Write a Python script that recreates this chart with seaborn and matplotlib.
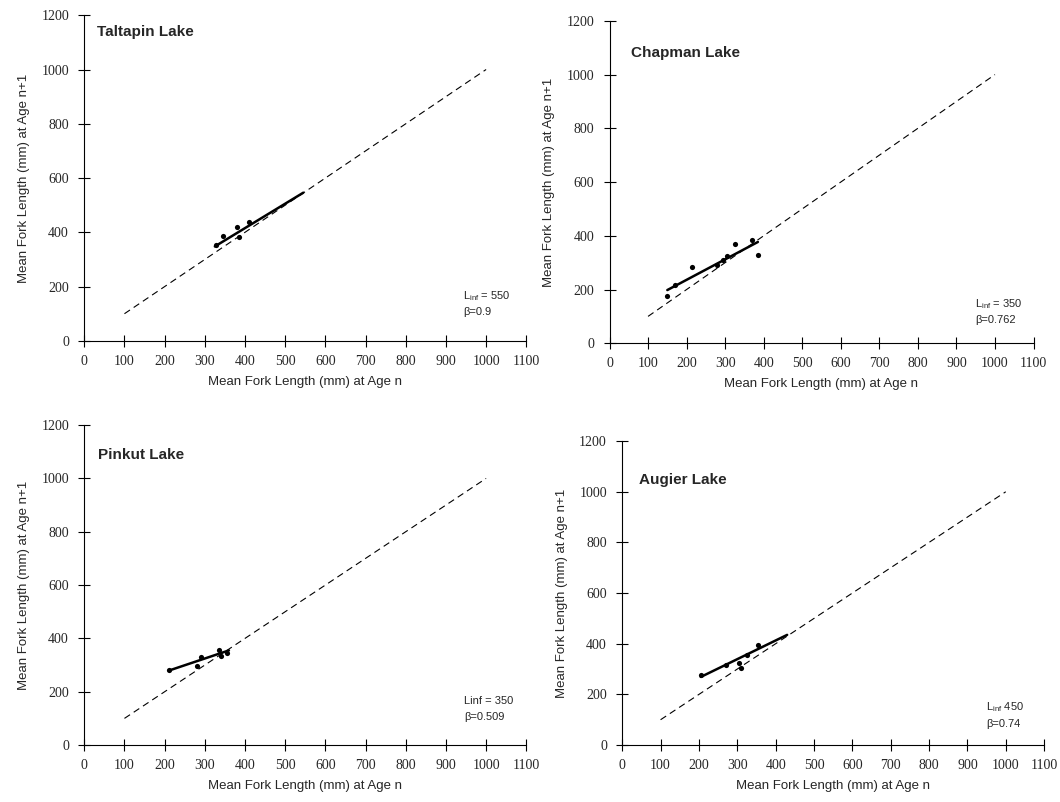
import numpy as np
import pandas as pd
import matplotlib
matplotlib.use("Agg")
import matplotlib.pyplot as plt
import seaborn as sns

# ---------------- data ----------------
lakes = ["Taltapin Lake", "Chapman Lake", "Pinkut Lake", "Augier Lake"]

taltapin_x = [329, 346, 379, 385, 410]
taltapin_y = [355, 386, 418, 381, 437]
taltapin_fit_x = [325, 545]
taltapin_fit_y = [348, 546]

chapman_x = [150, 170, 215, 280, 295, 305, 325, 370, 385]
chapman_y = [175, 215, 285, 290, 310, 325, 370, 385, 330]
chapman_fit_x = [150, 385]
chapman_fit_y = [198, 377]

pinkut_x = [210, 280, 290, 335, 340, 355]
pinkut_y = [280, 295, 330, 355, 335, 345]
pinkut_fit_x = [210, 360]
pinkut_fit_y = [279, 355]

augier_x = [205, 270, 305, 310, 325, 355]
augier_y = [275, 315, 325, 305, 355, 395]
augier_fit_x = [205, 430]
augier_fit_y = [269, 435]

one_to_one = [100, 1000]

annot_line1 = ["L$_{\\mathregular{inf}}$ = 550", "L$_{\\mathregular{inf}}$ = 350", "Linf = 350", "L$_{\\mathregular{inf}}$ 450"]
annot_line2 = ["β=0.9", "β=0.762", "β=0.509", "β=0.74"]

x_ticks = list(range(0, 1101, 100))
y_ticks = list(range(0, 1201, 200))

xlabel = "Mean Fork Length (mm) at Age n"
ylabel = "Mean Fork Length (mm) at Age n+1"

# ---------------- layout ----------------
positions = [
    [0.0795, 0.575, 0.417, 0.406],
    [0.575, 0.572, 0.400, 0.402],
    [0.0795, 0.071, 0.417, 0.399],
    [0.587, 0.071, 0.398, 0.379],
]
title_pos = [(0.029, 0.948), (0.05, 0.90), (0.031, 0.906), (0.04, 0.872)]
annot_pos = [(0.857, 0.138, 0.089), (0.862, 0.121, 0.071),
             (0.860, 0.1375, 0.0875), (0.863, 0.125, 0.069)]

# ---------------- style ----------------
sns.set_style("ticks")
plt.rcParams["font.family"] = ["Liberation Sans", "DejaVu Sans"]

fig = plt.figure(figsize=(10.6, 8.02), dpi=100)

pts = [(taltapin_x, taltapin_y), (chapman_x, chapman_y), (pinkut_x, pinkut_y), (augier_x, augier_y)]
fits = [(taltapin_fit_x, taltapin_fit_y), (chapman_fit_x, chapman_fit_y),
        (pinkut_fit_x, pinkut_fit_y), (augier_fit_x, augier_fit_y)]

for i, pos in enumerate(positions):
    ax = fig.add_axes(pos)
    px, py = pts[i]
    fx, fy = fits[i]
    sns.lineplot(x=one_to_one, y=one_to_one, ax=ax, color="black", lw=0.8,
                 linestyle=(0, (6, 4)))
    sns.lineplot(x=fx, y=fy, ax=ax, color="black", lw=1.8)
    sns.scatterplot(x=px, y=py, ax=ax, color="black", s=14, edgecolor="black", linewidth=0)
    ax.set_xlim(0, 1100)
    ax.set_ylim(0, 1200)
    ax.set_xticks(x_ticks)
    ax.set_yticks(y_ticks)
    ax.set_xticklabels([str(t) for t in x_ticks], family="Liberation Serif", fontsize=10)
    ax.set_yticklabels([str(t) for t in y_ticks], family="Liberation Serif", fontsize=10)
    ax.tick_params(direction="inout", length=8, width=0.8, color="black",
                   bottom=True, left=True)
    ax.tick_params(axis="x", pad=6)
    ax.tick_params(axis="y", pad=7)
    for s in ["top", "right"]:
        ax.spines[s].set_visible(False)
    for s in ["left", "bottom"]:
        ax.spines[s].set_color("black")
        ax.spines[s].set_linewidth(0.8)
    ax.set_xlabel(xlabel, fontsize=9.5, labelpad=6)
    ax.set_ylabel(ylabel, fontsize=9.5, labelpad=8)
    tx, ty = title_pos[i]
    ax.text(tx, ty, lakes[i], transform=ax.transAxes, fontsize=11, fontweight="bold",
            va="center", ha="left")
    axx, ay1, ay2 = annot_pos[i]
    ax.text(axx, ay1, annot_line1[i], transform=ax.transAxes, fontsize=8, va="center")
    ax.text(axx, ay2, annot_line2[i], transform=ax.transAxes, fontsize=8, va="center")

fig.savefig("out.png", dpi=100)
